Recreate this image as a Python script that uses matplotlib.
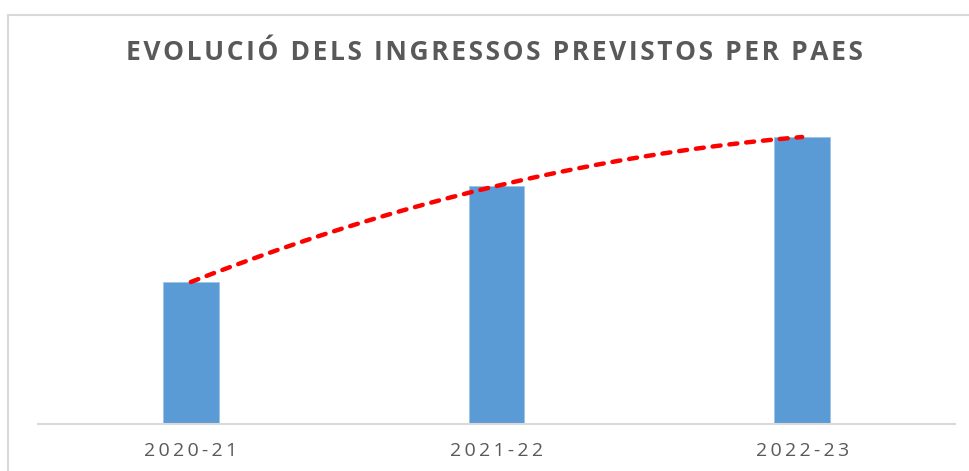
import matplotlib.pyplot as plt
import matplotlib.patches as mpatches
import numpy as np

# data (relative heights; the chart shows no value axis)
cursos = ["2020-21", "2021-22", "2022-23"]
ingressos = [142, 238, 287]

TITLE = "EVOLUCIÓ DELS INGRESSOS PREVISTOS PER PAES"
BAR_COLOR = "#5B9BD5"
TEXT_COLOR = "#595959"
AXIS_COLOR = "#D9D9D9"
FAMILY = ["Open Sans", "DejaVu Sans"]


def spaced(s, sep="\u200a"):
    # Excel style letter spacing
    return sep.join(s)


fig = plt.figure(figsize=(9.7, 4.71), dpi=100)

# chart area border (cut off at right and bottom in the reference)
fig.patches.append(mpatches.Rectangle(
    (8 / 970, -0.1), 1.2, 1 - 15 / 471 + 0.1, transform=fig.transFigure,
    fill=False, edgecolor=AXIS_COLOR, linewidth=1.5))

ax = fig.add_axes([38 / 970, 1 - 424 / 471, (955 - 38) / 970, (424 - 85) / 471])
x = np.arange(len(cursos))
ax.bar(x, ingressos, width=0.183, color=BAR_COLOR, edgecolor="#9DC3E6",
       linewidth=0.6, zorder=2)

# polynomial (order 2) trendline
coef = np.polyfit(x, ingressos, 2)
xs = np.linspace(x[0], x[-1], 200)
ax.plot(xs, np.polyval(coef, xs), color="#FF0000", linewidth=3.2,
        linestyle=(0, (1.8, 2.0)), dash_capstyle="round", zorder=3)

ax.set_xlim(-0.5, 2.5)
ax.set_ylim(0, 339)
ax.set_yticks([])
ax.set_xticks(x)
ax.set_xticklabels([spaced(c, "\u2009") for c in cursos], fontsize=14,
                   color=TEXT_COLOR, family=FAMILY)
ax.tick_params(axis="x", length=0, pad=13)
for s in ["top", "right", "left"]:
    ax.spines[s].set_visible(False)
ax.spines["bottom"].set_color(AXIS_COLOR)
ax.spines["bottom"].set_linewidth(1.5)

fig.text(494 / 970, 1 - 53 / 471, spaced(TITLE), ha="center",
         va="center", fontsize=19, fontweight="bold", color=TEXT_COLOR,
         family=FAMILY)

fig.savefig("out.png", dpi=100)
